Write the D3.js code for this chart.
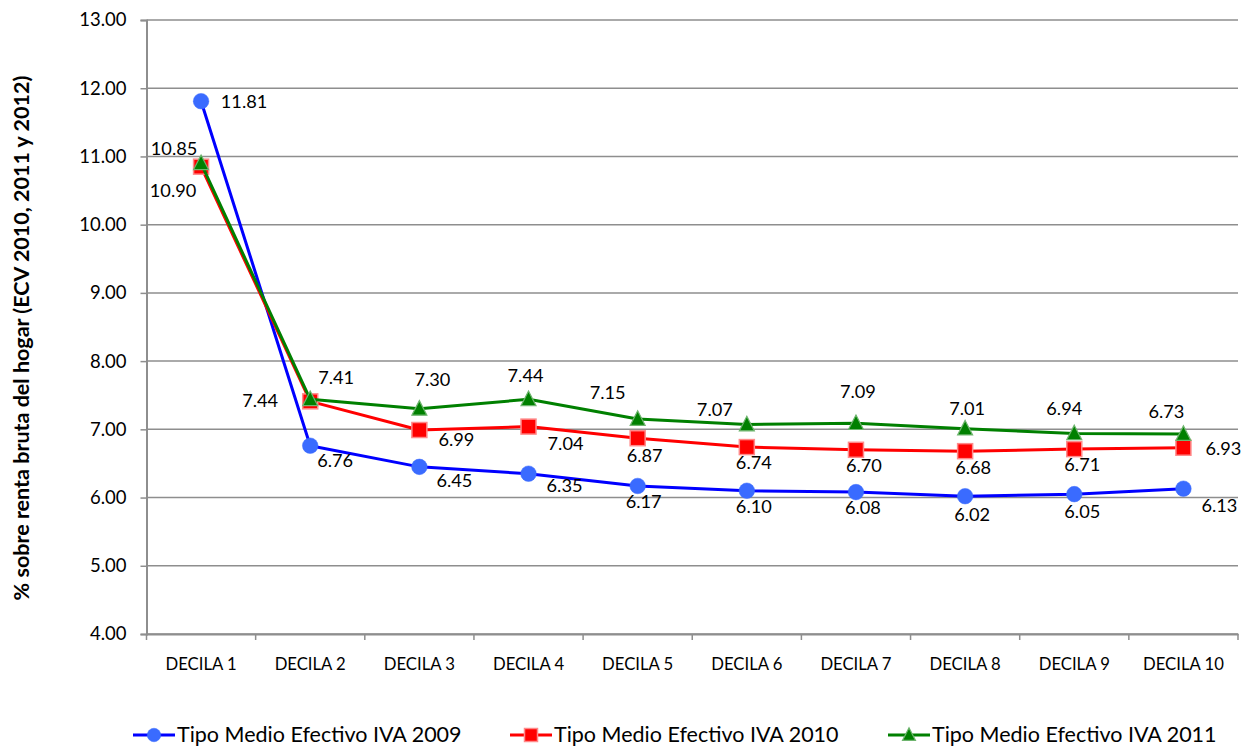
<!DOCTYPE html>
<html><head><meta charset="utf-8">
<script src="https://cdn.jsdelivr.net/npm/d3@7"></script>
<style>
html,body{margin:0;padding:0;background:#fff;}
svg text{font-family:Lato,"Open Sans",sans-serif;fill:#000;}
</style></head>
<body>
<svg id="chart" width="1244" height="747"></svg>
<script>
// ---- data ----
const categories = ["DECILA 1","DECILA 2","DECILA 3","DECILA 4","DECILA 5","DECILA 6","DECILA 7","DECILA 8","DECILA 9","DECILA 10"];
const iva2009 = [11.81, 6.76, 6.45, 6.35, 6.17, 6.10, 6.08, 6.02, 6.05, 6.13];
const iva2010 = [10.85, 7.41, 6.99, 7.04, 6.87, 6.74, 6.70, 6.68, 6.71, 6.73];
const iva2011 = [10.90, 7.44, 7.30, 7.44, 7.15, 7.07, 7.09, 7.01, 6.94, 6.93];
const seriesNames = ["Tipo Medio Efectivo IVA 2009","Tipo Medio Efectivo IVA 2010","Tipo Medio Efectivo IVA 2011"];
const yTicks = [4,5,6,7,8,9,10,11,12,13];
const yTitle = "% sobre renta bruta del hogar (ECV 2010, 2011 y 2012)";

// ---- layout (label offsets relative to each point, in px) ----
const labelOffsets2009 = [[43,0],[25,15],[35,14],[36,12],[6,16],[7,16],[7,16],[7,18],[8,17],[36,17]];
const labelOffsets2010 = [[-27,-18],[26,-24],[37,10],[37,17],[7,17],[7,16],[8,16],[8,16],[8,16],[-17,-36]];
const labelOffsets2011 = [[-28,27],[-50,1],[13,-29],[-3,-24],[-30,-26],[-32,-15],[2,-32],[2,-20],[-10,-25],[40,15]];

(function () {
const svg = d3.select("#chart");
const mLeft = 146.5, mRight = 1238, mTop = 20, mBottom = 634;

const x = d3.scaleBand().domain(categories).range([mLeft, mRight]);
const y = d3.scaleLinear().domain([4, 13]).range([mBottom, mTop]);
const cx = c => x(c) + x.bandwidth() / 2;

const gridColor = "#8e8e8e";

// gridlines
svg.append("g").selectAll("line").data(yTicks).join("line")
  .attr("x1", mLeft).attr("x2", mRight)
  .attr("y1", d => y(d)).attr("y2", d => y(d))
  .attr("stroke", gridColor).attr("stroke-width", 1.5);

// y axis
const yAxis = d3.axisLeft(y).tickValues(yTicks).tickFormat(d3.format(".2f")).tickSize(6).tickPadding(14);
const gy = svg.append("g").attr("transform", `translate(${mLeft},0)`).call(yAxis);
gy.select(".domain").attr("stroke", gridColor).attr("stroke-width", 2);
gy.selectAll(".tick line").attr("stroke", gridColor).attr("stroke-width", 1.5);
gy.selectAll(".tick text").style("font-size", "18.5px").style("font-family", "Lato");

// x axis
const xAxis = d3.axisBottom(x).tickSize(0).tickPadding(24);
const gx = svg.append("g").attr("transform", `translate(0,${mBottom})`).call(xAxis);
gx.select(".domain").attr("stroke", gridColor).attr("stroke-width", 2);
gx.selectAll(".tick text").style("font-size", "16.7px").style("font-family", "Lato");
// category boundary ticks
const bounds = categories.map(c => x(c)).concat([mRight]);
svg.append("g").selectAll("line").data(bounds).join("line")
  .attr("x1", d => d).attr("x2", d => d)
  .attr("y1", mBottom).attr("y2", mBottom + 6)
  .attr("stroke", gridColor).attr("stroke-width", 1.5);

// y title
svg.append("text")
  .attr("transform", `translate(29,338) rotate(-90)`)
  .attr("text-anchor", "middle")
  .style("font-size", "21.5px").style("font-weight", "bold")
  .text(yTitle);

const series = [
  {name: seriesNames[0], values: iva2009, offs: labelOffsets2009, line: "#0000ff", fill: "#3a6bff", stroke: "#3a6bff", shape: "circle"},
  {name: seriesNames[1], values: iva2010, offs: labelOffsets2010, line: "#ff0000", fill: "#ff0000", stroke: "#ff8a8a", shape: "square"},
  {name: seriesNames[2], values: iva2011, offs: labelOffsets2011, line: "#008000", fill: "#008000", stroke: "#6fb56f", shape: "triangle"}
];

function drawMarker(g, shape, fill, stroke, size) {
  if (shape === "circle") {
    g.append("circle").attr("r", size * 0.52).attr("fill", fill).attr("stroke", stroke).attr("stroke-width", 0.5);
  } else if (shape === "square") {
    const s = size;
    g.append("rect").attr("x", -s/2).attr("y", -s/2).attr("width", s).attr("height", s)
      .attr("fill", fill).attr("stroke", stroke).attr("stroke-width", 1.5);
  } else {
    const s = size;
    g.append("path").attr("d", `M0,${-s*0.55} L${s*0.5},${s*0.42} L${-s*0.5},${s*0.42} Z`)
      .attr("fill", fill).attr("stroke", stroke).attr("stroke-width", 1.2);
  }
}

const line = d3.line().x((d, i) => cx(categories[i])).y(d => y(d));

series.forEach(s => {
  const g = svg.append("g");
  g.append("path").datum(s.values).attr("d", line)
    .attr("fill", "none").attr("stroke", s.line).attr("stroke-width", 3).attr("stroke-linejoin", "round");
  s.values.forEach((v, i) => {
    const mg = g.append("g").attr("transform", `translate(${cx(categories[i])},${y(v)})`);
    drawMarker(mg, s.shape, s.fill, s.stroke, 15);
  });
});

// data labels
series.forEach(s => {
  svg.append("g").selectAll("text").data(s.values).join("text")
    .attr("x", (d, i) => cx(categories[i]) + s.offs[i][0])
    .attr("y", (d, i) => y(d) + s.offs[i][1])
    .attr("dy", "0.35em")
    .attr("text-anchor", "middle")
    .style("font-size", "18.2px")
    .text(d => d3.format(".2f")(d));
});

// legend
const legendX = [133, 510, 888];
const legendY = 735;
series.forEach((s, k) => {
  const g = svg.append("g").attr("transform", `translate(${legendX[k]},${legendY})`);
  g.append("line").attr("x1", 0).attr("x2", 42).attr("y1", 0).attr("y2", 0)
    .attr("stroke", s.line).attr("stroke-width", 3);
  const mg = g.append("g").attr("transform", "translate(21,0)");
  drawMarker(mg, s.shape, s.fill, s.stroke, 13);
  g.append("text").attr("x", 44).attr("y", -1).attr("dy", "0.35em")
    .style("font-size", "21.5px").text(s.name);
});
})();
</script>
</body></html>
